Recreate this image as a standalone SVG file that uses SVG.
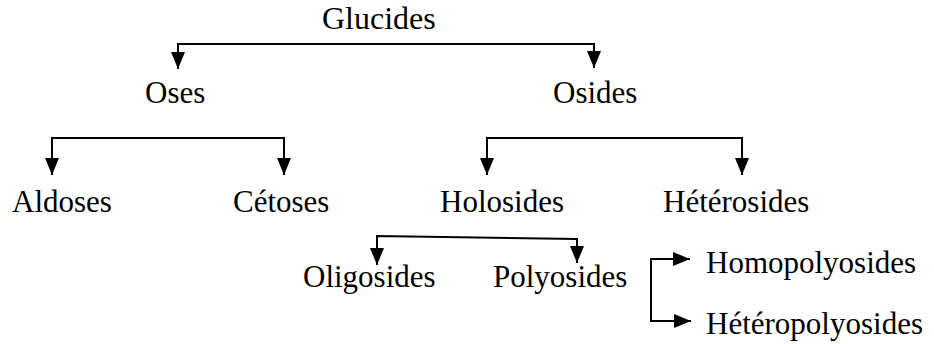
<svg xmlns="http://www.w3.org/2000/svg" width="934" height="344" viewBox="0 0 934 344">
<style>
text{font-family:'Liberation Serif','DejaVu Serif',serif;font-size:31px;fill:#000}
.c{fill:none;stroke:#000;stroke-width:2}
</style>
<defs>
<marker id="ah" viewBox="0 0 17 14" refX="17" refY="7" markerWidth="17" markerHeight="14" markerUnits="userSpaceOnUse" orient="auto-start-reverse">
<path d="M0,0 L17,7 L0,14 z" fill="#000"/>
</marker>
</defs>
<rect width="934" height="344" fill="#fff"/>
<g id="connectors">
<path class="c" d="M178,69 V44 H594 V68" marker-start="url(#ah)" marker-end="url(#ah)"/>
<path class="c" d="M52,175 V138 H284 V175" marker-start="url(#ah)" marker-end="url(#ah)"/>
<path class="c" d="M487,175 V138 H742 V175" marker-start="url(#ah)" marker-end="url(#ah)"/>
<path class="c" d="M377,265 V236 L577,239 V263" marker-start="url(#ah)" marker-end="url(#ah)"/>
<path class="c" d="M690,259 H651 V321 H691" marker-start="url(#ah)" marker-end="url(#ah)"/>
</g>
<g id="glucides"><text x="322" y="29" style="font-size:32px">Glucides</text></g>
<g id="oses"><text x="145" y="103">Oses</text></g>
<g id="osides"><text x="553" y="103">Osides</text></g>
<g id="aldoses"><text x="12" y="212">Aldoses</text></g>
<g id="cetoses"><text x="233" y="212">Cétoses</text></g>
<g id="holosides"><text x="440" y="212">Holosides</text></g>
<g id="heterosides"><text x="663" y="212">Hétérosides</text></g>
<g id="oligosides"><text x="303" y="287">Oligosides</text></g>
<g id="polyosides"><text x="493" y="287">Polyosides</text></g>
<g id="homopolyosides"><text x="706" y="273">Homopolyosides</text></g>
<g id="heteropolyosides"><text x="706" y="334">Hétéropolyosides</text></g>
</svg>
